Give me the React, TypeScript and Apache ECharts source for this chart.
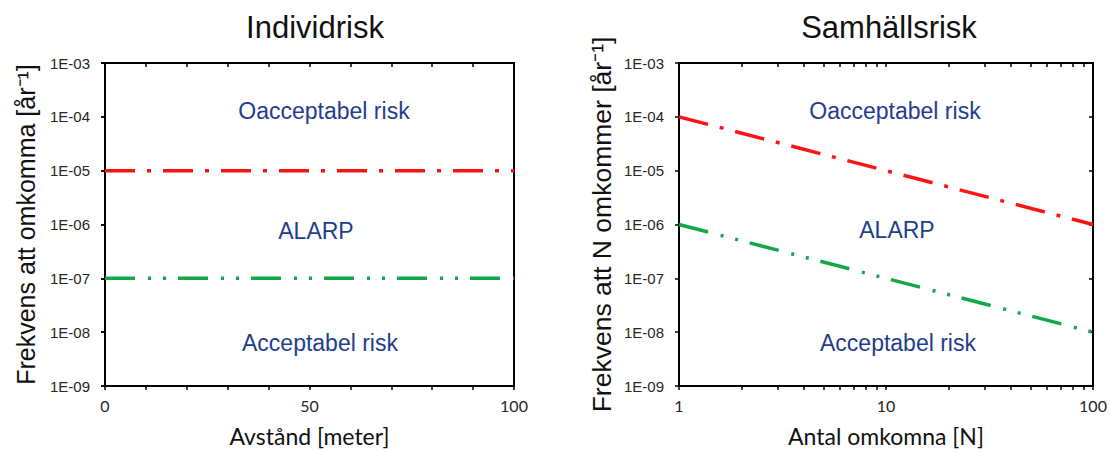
import React, { useEffect, useRef } from "react";
import * as echarts from "echarts";

// ---- data ----
const leftX = [0, 100];
const leftUpper = [1e-5, 1e-5];
const leftLower = [1e-7, 1e-7];
const rightX = [1, 100];
const rightUpper = [1e-4, 1e-6];
const rightLower = [1e-6, 1e-8];

const titles = ["Individrisk", "Samhällsrisk"];
const xNames = ["Avstånd [meter]", "Antal omkomna [N]"];
const yNames = ["Frekvens att omkomma [år⁻¹]", "Frekvens att N omkommer [år⁻¹]"];
const zoneLabels = ["Oacceptabel risk", "ALARP", "Acceptabel risk"];
const leftXLabels = [0, 50, 100];
const rightXTicks = [1, 2, 3, 4, 5, 6, 7, 8, 9, 10, 20, 30, 40, 50, 60, 70, 80, 90, 100];
const rightXLabels = [1, 10, 100];

const RED = "#ff1212";
const GREEN = "#12a84a";
const NAVY = "#1f3d8f";
const redDash = [30, 12, 4, 12];
const greenDash = [30, 13, 3, 12, 3, 12];
const ARIAL = "Arial";

const yFmt = (v: number) => {
  const e = Math.round(Math.log10(v));
  return "1E-" + String(-e).padStart(2, "0");
};

export default function App() {
  const ref = useRef<HTMLDivElement>(null);
  useEffect(() => {
    if (!ref.current) return;
    const chart = echarts.init(ref.current, null, { renderer: "svg" });
    const grids = [
      { left: 105, top: 63, width: 409, height: 326 },
      { left: 679, top: 63, width: 414, height: 327 },
    ];
    const axisLine = { show: true, lineStyle: { color: "#000", width: 2 } };
    const tickStyle = { color: "#000", width: 1.5 };
    const yLabel = {
      formatter: yFmt,
      fontFamily: ARIAL,
      fontSize: 15,
      color: "#262626",
      margin: 15,
    };
    const xLabelStyle = {
      fontFamily: "Lato",
      fontSize: 16,
      color: "#262626",
      margin: 11,
    };
    const yNameSize = [25, 26.5];
    const yNameGap = [67, 64];
    const nameX = { fontFamily: "Lato", fontSize: 23, color: "#111" };

    const xAxis: any[] = [
      {
        gridIndex: 0,
        type: "value",
        min: 0,
        max: 100,
        interval: 10,
        axisLine,
        axisTick: { show: true, length: 4, lineStyle: tickStyle },
        axisLabel: {
          ...xLabelStyle,
          formatter: (v: number) => (leftXLabels.includes(v) ? String(v) : ""),
        },
        splitLine: { show: false },
        name: xNames[0],
        nameLocation: "middle",
        nameGap: 38,
        nameTextStyle: nameX,
      },
      {
        gridIndex: 0,
        type: "value",
        min: 0,
        max: 100,
        interval: 10,
        axisLine: { show: false },
        axisTick: { show: true, inside: true, length: 4, lineStyle: tickStyle },
        axisLabel: { show: false },
        splitLine: { show: false },
      },
      {
        gridIndex: 1,
        type: "log",
        logBase: 10,
        min: 1,
        max: 100,
        axisLine,
        axisTick: { show: true, length: 4, lineStyle: tickStyle, customValues: rightXTicks },
        axisLabel: { ...xLabelStyle, customValues: rightXLabels },
        splitLine: { show: false },
        name: xNames[1],
        nameLocation: "middle",
        nameGap: 38,
        nameTextStyle: nameX,
      },
      {
        gridIndex: 1,
        type: "log",
        logBase: 10,
        min: 1,
        max: 100,
        axisLine: { show: false },
        axisTick: { show: true, inside: true, length: 4, lineStyle: tickStyle, customValues: rightXTicks },
        axisLabel: { show: false },
        splitLine: { show: false },
      },
    ];
    const mkY = (gi: number, main: boolean) => ({
      gridIndex: gi,
      type: "log",
      logBase: 10,
      min: 1e-9,
      max: 1e-3,
      splitNumber: 6,
      axisLine: main ? axisLine : { show: false },
      axisTick: { show: true, inside: !main, length: 4, lineStyle: tickStyle },
      axisLabel: main ? yLabel : { show: false },
      splitLine: { show: false },
      minorTick: { show: false },
      ...(main
        ? {
            name: yNames[gi],
            nameLocation: "middle",
            nameGap: yNameGap[gi],
            nameTextStyle: { fontFamily: ARIAL, fontSize: yNameSize[gi], color: "#111" },
          }
        : {}),
    });
    const yAxis = [mkY(0, true), mkY(0, false), mkY(1, true), mkY(1, false)];

    const line = (xs: number[], ys: number[], xi: number, yi: number, color: string, dash: number[]) => ({
      type: "line",
      xAxisIndex: xi,
      yAxisIndex: yi,
      data: xs.map((x, i) => [x, ys[i]]),
      symbol: "none",
      lineStyle: { color, width: 3.5, type: dash, cap: "butt" },
      silent: true,
    });

    const zoneText = (x: number, y: number, t: string) => ({
      type: "text",
      x,
      y,
      style: {
        text: t,
        fill: NAVY,
        fontSize: 23,
        fontFamily: ARIAL,
        align: "center",
        verticalAlign: "middle",
      },
    });
    const titleText = (x: number, t: string) => ({
      type: "text",
      x,
      y: 27,
      style: {
        text: t,
        fill: "#111",
        fontSize: 31,
        fontFamily: ARIAL,
        align: "center",
        verticalAlign: "middle",
      },
    });

    chart.setOption({
      animation: false,
      backgroundColor: "#fff",
      grid: grids.map((g) => ({ ...g, show: true, borderColor: "#000", borderWidth: 2, backgroundColor: "transparent" })),
      xAxis,
      yAxis,
      series: [
        line(leftX, leftUpper, 0, 0, RED, redDash),
        line(leftX, leftLower, 0, 0, GREEN, greenDash),
        line(rightX, rightUpper, 2, 2, RED, redDash),
        line(rightX, rightLower, 2, 2, GREEN, greenDash),
      ],
      graphic: [
        titleText(315, titles[0]),
        titleText(889, titles[1]),
        zoneText(324, 111, zoneLabels[0]),
        zoneText(316, 231, zoneLabels[1]),
        zoneText(320, 343, zoneLabels[2]),
        zoneText(895, 111, zoneLabels[0]),
        zoneText(897, 230, zoneLabels[1]),
        zoneText(898, 343, zoneLabels[2]),
      ],
    });
    return () => chart.dispose();
  }, []);
  return (
    <div
      ref={ref}
      style={{ position: "fixed", left: 0, top: 0, width: 1110, height: 452 }}
    />
  );
}
